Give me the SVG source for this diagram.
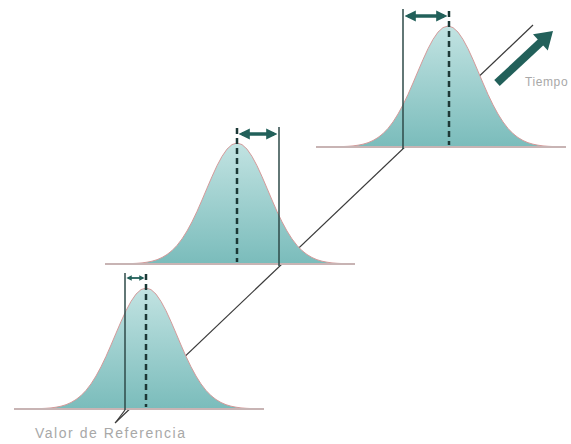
<svg xmlns="http://www.w3.org/2000/svg" width="571" height="444" viewBox="0 0 571 444">
<style>
.base{stroke:#c8b4b4;stroke-width:2;fill:none}
.curve{stroke:#d49a9a;stroke-width:1;fill:url(#bellGrad)}
.ref{stroke:#2e4a48;stroke-width:1.5;fill:none}
.mean{stroke:#1c3836;stroke-width:2.5;stroke-dasharray:6 4;fill:none}
.diag{stroke:#3a3a3a;stroke-width:1.2;fill:none}
.dbl{stroke:#22605a;stroke-width:3.5;fill:none;marker-start:url(#head);marker-end:url(#head)}
.dbls{stroke:#22605a;stroke-width:1.8;fill:none;marker-start:url(#heads);marker-end:url(#heads)}
.lbl{font-family:"Liberation Sans",Arial,sans-serif;fill:#a8a8a8}
</style>
<defs>
<linearGradient id="bellGrad" x1="0" y1="0" x2="0" y2="1">
<stop offset="0" stop-color="#c2e3e2"/>
<stop offset="1" stop-color="#7abcbb"/>
</linearGradient>
<marker id="head" viewBox="0 0 10 10" refX="7" refY="5" markerWidth="3.2" markerHeight="3.8" orient="auto-start-reverse" markerUnits="strokeWidth">
<path d="M0,0 L10,5 L0,10 Z" fill="#22605a"/>
</marker>
<marker id="heads" viewBox="0 0 10 10" refX="7" refY="5" markerWidth="3" markerHeight="3.5" orient="auto-start-reverse" markerUnits="strokeWidth">
<path d="M0,0 L10,5 L0,10 Z" fill="#22605a"/>
</marker>
<g id="bell">
<path class="curve" d="M-132,0 L-110,-0.2 L-100,-0.7 L-95,-1.1 L-90,-1.8 L-85,-2.8 L-80,-4.3 L-75,-6.5 L-70,-9.5 L-65,-13.4 L-60,-18.6 L-55,-25.1 L-50,-33 L-45,-42.2 L-40,-52.6 L-35,-64 L-30,-75.8 L-25,-87.4 L-20,-98.3 L-15,-107.6 L-10,-114.9 L-5,-119.4 L0,-121 L5,-119.4 L10,-114.9 L15,-107.6 L20,-98.3 L25,-87.4 L30,-75.8 L35,-64 L40,-52.6 L45,-42.2 L50,-33 L55,-25.1 L60,-18.6 L65,-13.4 L70,-9.5 L75,-6.5 L80,-4.3 L85,-2.8 L90,-1.8 L95,-1.1 L100,-0.7 L110,-0.2 L118,0 Z"/>
<line class="base" x1="-132" y1="0" x2="118" y2="0"/>
</g>
</defs>
<g id="connectors">
<line class="diag" x1="115" y1="423" x2="533" y2="25"/>
</g>
<g id="bell1">
<use href="#bell" transform="translate(146,409)"/>
<line class="ref" x1="125" y1="273" x2="125" y2="410"/>
<line class="mean" x1="146" y1="274" x2="146" y2="407"/>
<line class="dbls" x1="128" y1="278" x2="143" y2="278"/>
</g>
<g id="bell2">
<use href="#bell" transform="translate(237,264)"/>
<line class="ref" x1="279" y1="127" x2="279" y2="266"/>
<line class="mean" x1="237" y1="128" x2="237" y2="262"/>
<line class="dbl" x1="242" y1="134" x2="274" y2="134"/>
</g>
<g id="bell3">
<use href="#bell" transform="translate(448,147)"/>
<line class="ref" x1="403" y1="9" x2="403" y2="149"/>
<line class="mean" x1="449" y1="11" x2="449" y2="145"/>
<line class="dbl" x1="408" y1="16" x2="444" y2="16"/>
</g>
<g id="time">
<line x1="497" y1="83" x2="541" y2="42" stroke="#22605a" stroke-width="8"/>
<polygon points="553,31 547.8,50.6 533,34.2" fill="#22605a"/>
<text class="lbl" x="525" y="86" font-size="12" letter-spacing="0.6">Tiempo</text>
</g>
<g id="label">
<line x1="125" y1="410" x2="116" y2="422" stroke="#3a3a3a" stroke-width="1.2"/>
<text class="lbl" x="35" y="438" font-size="14" textLength="150" lengthAdjust="spacing">Valor de Referencia</text>
</g>
</svg>
